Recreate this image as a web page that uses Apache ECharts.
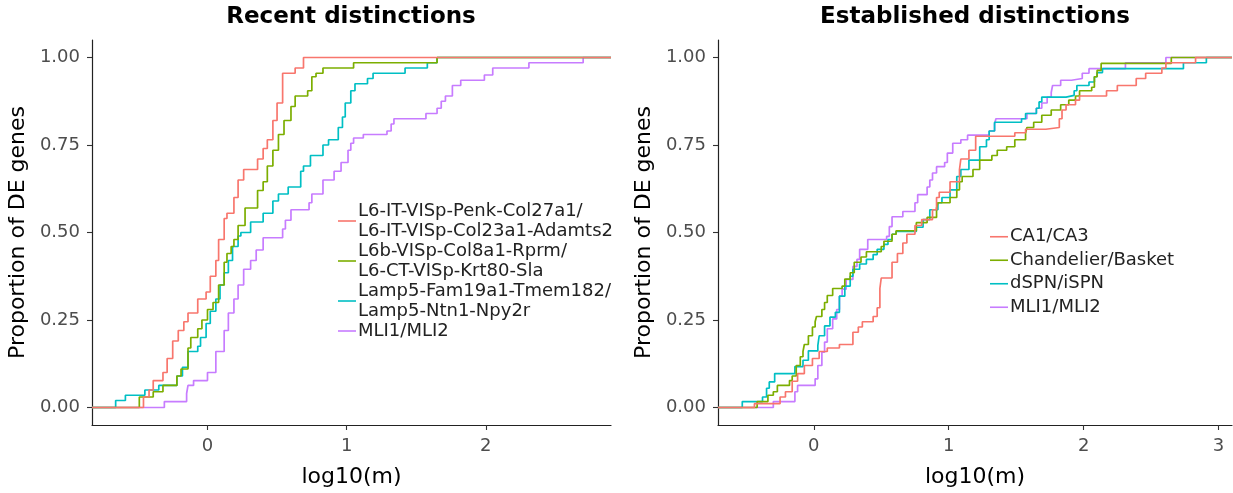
<!DOCTYPE html>
<html>
<head>
<meta charset="utf-8">
<script src="https://cdn.jsdelivr.net/npm/echarts@6/dist/echarts.min.js"></script>
<style>html,body{margin:0;padding:0;background:#fff}#c{width:1233px;height:493px}</style>
</head>
<body>
<div id="c"></div>
<script>
// ---------- DATA ----------
const panelTitles = ['Recent distinctions', 'Established distinctions'];
const xAxisTitle = 'log10(m)';
const yAxisTitle = 'Proportion of DE genes';
const yTicks = [0, 0.25, 0.5, 0.75, 1];
const xTicksLeft = [0, 1, 2];
const xTicksRight = [0, 1, 2, 3];
const xRangeLeft = [-0.83, 2.90];
const xRangeRight = [-0.71, 3.10];
const yRange = [-0.05, 1.05];

const recentNames = [
  'L6-IT-VISp-Penk-Col27a1/\nL6-IT-VISp-Col23a1-Adamts2',
  'L6b-VISp-Col8a1-Rprm/\nL6-CT-VISp-Krt80-Sla',
  'Lamp5-Fam19a1-Tmem182/\nLamp5-Ntn1-Npy2r',
  'MLI1/MLI2'
];
const establishedNames = ['CA1/CA3', 'Chandelier/Basket', 'dSPN/iSPN', 'MLI1/MLI2'];
const palette = ['#F8766D', '#7CAE00', '#00BFC4', '#C77CFF'];

// ECDF step points [log10(m), proportion]
const recentL6IT = [[-0.46,0.03],[-0.42,0.05],[-0.39,0.077],[-0.32,0.10],[-0.29,0.14],[-0.25,0.19],[-0.21,0.22],[-0.17,0.245],[-0.14,0.27],[-0.07,0.31],[-0.01,0.33],[0.02,0.375],[0.06,0.42],[0.08,0.48],[0.12,0.54],[0.14,0.555],[0.19,0.60],[0.22,0.65],[0.26,0.68],[0.36,0.71],[0.40,0.74],[0.43,0.765],[0.47,0.82],[0.50,0.87],[0.54,0.955],[0.63,0.97],[0.69,1.0]];
const recentL6b = [[-0.49,0.03],[-0.39,0.045],[-0.32,0.063],[-0.22,0.09],[-0.19,0.11],[-0.14,0.17],[-0.12,0.20],[-0.07,0.225],[-0.04,0.25],[0.00,0.28],[0.04,0.30],[0.08,0.35],[0.12,0.415],[0.14,0.44],[0.17,0.46],[0.19,0.48],[0.22,0.52],[0.27,0.57],[0.36,0.62],[0.40,0.645],[0.43,0.69],[0.47,0.735],[0.51,0.78],[0.55,0.82],[0.60,0.86],[0.63,0.89],[0.72,0.905],[0.75,0.945],[0.78,0.955],[0.83,0.97],[1.05,0.985],[1.65,1.0]];
const recentLamp5 = [[-0.66,0.02],[-0.59,0.035],[-0.45,0.05],[-0.35,0.063],[-0.22,0.09],[-0.18,0.115],[-0.14,0.16],[-0.07,0.175],[-0.05,0.20],[-0.01,0.24],[0.02,0.275],[0.06,0.31],[0.09,0.35],[0.12,0.385],[0.15,0.42],[0.18,0.46],[0.22,0.49],[0.24,0.50],[0.31,0.53],[0.40,0.555],[0.47,0.59],[0.51,0.61],[0.58,0.63],[0.67,0.675],[0.69,0.69],[0.74,0.72],[0.83,0.75],[0.87,0.765],[0.94,0.80],[0.97,0.83],[0.99,0.87],[1.03,0.905],[1.06,0.925],[1.15,0.94],[1.19,0.955],[1.42,0.97],[1.58,0.985],[1.65,1.0]];
const recentMLI = [[-0.31,0.017],[-0.15,0.04],[-0.14,0.063],[-0.10,0.077],[0.00,0.10],[0.06,0.16],[0.12,0.22],[0.15,0.27],[0.19,0.31],[0.22,0.35],[0.26,0.395],[0.31,0.42],[0.35,0.45],[0.40,0.485],[0.54,0.51],[0.56,0.535],[0.60,0.565],[0.73,0.585],[0.75,0.61],[0.83,0.65],[0.91,0.675],[0.96,0.70],[1.01,0.735],[1.03,0.755],[1.05,0.77],[1.12,0.78],[1.29,0.79],[1.32,0.81],[1.34,0.825],[1.57,0.84],[1.65,0.855],[1.68,0.875],[1.71,0.89],[1.76,0.92],[1.82,0.935],[1.99,0.95],[2.05,0.97],[2.31,0.985],[2.70,1.0]];

const estCA = [[-0.44,0.011],[-0.25,0.03],[-0.21,0.045],[-0.16,0.075],[-0.12,0.097],[-0.07,0.12],[-0.01,0.14],[0.04,0.16],[0.10,0.17],[0.19,0.18],[0.29,0.215],[0.33,0.23],[0.36,0.245],[0.44,0.26],[0.47,0.285],[0.49,0.34],[0.50,0.37],[0.58,0.415],[0.62,0.44],[0.66,0.47],[0.69,0.495],[0.75,0.52],[0.80,0.537],[0.88,0.565],[0.91,0.60],[0.93,0.615],[1.01,0.645],[1.08,0.68],[1.09,0.71],[1.15,0.735],[1.20,0.775],[1.49,0.785],[1.57,0.795],[1.72,0.80],[1.82,0.825],[1.84,0.85],[1.87,0.865],[1.94,0.878],[1.97,0.89],[2.17,0.905],[2.25,0.92],[2.39,0.94],[2.46,0.955],[2.58,0.97],[2.61,0.985],[2.83,1.0]];
const estChandelier = [[-0.42,0.017],[-0.34,0.035],[-0.30,0.045],[-0.27,0.063],[-0.18,0.077],[-0.16,0.09],[-0.13,0.12],[-0.10,0.145],[-0.08,0.16],[-0.07,0.18],[-0.04,0.205],[-0.01,0.23],[0.01,0.245],[0.02,0.26],[0.06,0.28],[0.08,0.30],[0.10,0.32],[0.14,0.34],[0.21,0.347],[0.23,0.367],[0.27,0.385],[0.30,0.415],[0.35,0.43],[0.39,0.445],[0.50,0.46],[0.52,0.475],[0.58,0.495],[0.61,0.505],[0.76,0.528],[0.84,0.543],[0.91,0.57],[0.92,0.585],[1.01,0.60],[1.06,0.622],[1.08,0.645],[1.10,0.66],[1.18,0.68],[1.23,0.707],[1.32,0.72],[1.36,0.735],[1.43,0.745],[1.49,0.765],[1.57,0.784],[1.58,0.80],[1.63,0.815],[1.69,0.835],[1.76,0.85],[1.83,0.865],[1.89,0.878],[1.94,0.89],[1.97,0.905],[2.06,0.915],[2.08,0.945],[2.10,0.963],[2.13,0.983],[2.65,1.0]];
const estSPN = [[-0.53,0.017],[-0.38,0.03],[-0.35,0.055],[-0.33,0.073],[-0.29,0.097],[-0.14,0.117],[-0.08,0.135],[-0.04,0.162],[0.03,0.177],[0.04,0.205],[0.08,0.233],[0.12,0.258],[0.16,0.272],[0.19,0.318],[0.23,0.347],[0.27,0.375],[0.29,0.395],[0.34,0.41],[0.39,0.423],[0.44,0.437],[0.47,0.452],[0.52,0.466],[0.55,0.48],[0.58,0.495],[0.61,0.503],[0.76,0.515],[0.81,0.537],[0.86,0.565],[0.92,0.585],[0.95,0.60],[1.01,0.622],[1.06,0.66],[1.09,0.68],[1.15,0.707],[1.23,0.745],[1.28,0.765],[1.30,0.79],[1.34,0.815],[1.54,0.825],[1.57,0.84],[1.65,0.855],[1.67,0.873],[1.69,0.887],[1.87,0.892],[1.93,0.905],[1.95,0.92],[2.04,0.93],[2.08,0.945],[2.10,0.957],[2.14,0.968],[2.74,0.985],[2.91,1.0]];
const estMLI = [[-0.30,0.017],[-0.14,0.045],[-0.12,0.063],[0.01,0.082],[0.03,0.12],[0.06,0.158],[0.08,0.187],[0.10,0.225],[0.14,0.253],[0.17,0.28],[0.19,0.318],[0.21,0.338],[0.24,0.366],[0.29,0.403],[0.32,0.423],[0.34,0.452],[0.40,0.48],[0.54,0.489],[0.56,0.517],[0.58,0.545],[0.66,0.56],[0.75,0.585],[0.77,0.608],[0.84,0.63],[0.86,0.65],[0.88,0.67],[0.91,0.688],[0.97,0.70],[0.99,0.727],[1.03,0.755],[1.09,0.765],[1.14,0.778],[1.30,0.79],[1.34,0.81],[1.35,0.825],[1.58,0.84],[1.65,0.855],[1.69,0.87],[1.73,0.887],[1.76,0.90],[1.77,0.92],[1.83,0.935],[1.91,0.94],[1.99,0.955],[2.04,0.968],[2.31,0.985],[2.61,1.0]];

const recentData = [recentL6IT, recentL6b, recentLamp5, recentMLI];
const establishedData = [estCA, estChandelier, estSPN, estMLI];

// ---------- CHART ----------
const FONT = 'DejaVu Sans';
function ecdf(points, range) {
  // extend to panel edges like an ECDF line
  return [[range[0], 0]].concat(points, [[range[1], 1]]);
}
function xAxisCfg(gi, range, ticks) {
  return {
    type: 'value', gridIndex: gi, min: range[0], max: range[1],
    name: xAxisTitle, nameLocation: 'middle', nameGap: 41,
    nameTextStyle: {fontSize: 22, color: '#000', fontFamily: FONT},
    axisLine: {onZero: false, lineStyle: {color: '#222', width: 1.2}},
    axisTick: {customValues: ticks, length: 5, lineStyle: {color: '#333', width: 1.1}},
    axisLabel: {customValues: ticks, margin: 12, fontSize: 18, color: '#4d4d4d', fontFamily: FONT},
    splitLine: {show: false}
  };
}
function yAxisCfg(gi) {
  return {
    type: 'value', gridIndex: gi, min: yRange[0], max: yRange[1],
    name: yAxisTitle, nameLocation: 'middle', nameGap: 63,
    nameTextStyle: {fontSize: 22, color: '#000', fontFamily: FONT},
    axisLine: {show: true, onZero: false, lineStyle: {color: '#222', width: 1.2}},
    axisTick: {show: true, customValues: yTicks, length: 5, lineStyle: {color: '#333', width: 1.1}},
    axisLabel: {customValues: yTicks, margin: 12, fontSize: 18, color: '#4d4d4d', fontFamily: FONT,
      formatter: v => v.toFixed(2)},
    splitLine: {show: false}
  };
}
const series = [];
recentData.forEach((d, i) => series.push({
  name: recentNames[i], type: 'line', step: 'end', xAxisIndex: 0, yAxisIndex: 0,
  data: ecdf(d, xRangeLeft), showSymbol: false, symbol: 'none', silent: true,
  color: palette[i], lineStyle: {color: palette[i], width: 1.7}, z: 10 - i
}));
establishedData.forEach((d, i) => series.push({
  name: establishedNames[i], type: 'line', step: 'end', xAxisIndex: 1, yAxisIndex: 1,
  data: ecdf(d, xRangeRight), showSymbol: false, symbol: 'none', silent: true,
  color: palette[i], lineStyle: {color: palette[i], width: 1.7}, z: 10 - i
}));

const legendText = {fontSize: 18, color: '#222', fontFamily: FONT};
const option = {
  backgroundColor: '#fff',
  animation: false,
  textStyle: {fontFamily: FONT},
  title: [
    {text: panelTitles[0], left: 351, top: 6, textAlign: 'center', padding: 0,
     textStyle: {fontSize: 23, fontWeight: 'bold', color: '#000', fontFamily: FONT}},
    {text: panelTitles[1], left: 975, top: 6, textAlign: 'center', padding: 0,
     textStyle: {fontSize: 23, fontWeight: 'bold', color: '#000', fontFamily: FONT}}
  ],
  grid: [
    {left: 92, right: 622, top: 40, bottom: 67, containLabel: false},
    {left: 718, right: 1, top: 40, bottom: 67, containLabel: false}
  ],
  xAxis: [xAxisCfg(0, xRangeLeft, xTicksLeft), xAxisCfg(1, xRangeRight, xTicksRight)],
  yAxis: [yAxisCfg(0), yAxisCfg(1)],
  legend: [
    {data: recentNames, left: 338, top: 201, orient: 'vertical', itemGap: 0,
     icon: 'rect', itemWidth: 18, itemHeight: 1.6, padding: 0, selectedMode: false,
     textStyle: Object.assign({lineHeight: 20, padding: [0, 0, 0, -3]}, legendText)},
    {data: establishedNames, left: 990, top: 225, orient: 'vertical', itemGap: 0,
     icon: 'rect', itemWidth: 18, itemHeight: 1.6, padding: 0, selectedMode: false,
     textStyle: Object.assign({lineHeight: 23.5, padding: [0, 0, 0, -3]}, legendText)}
  ],
  series: series
};
const chart = echarts.init(document.getElementById('c'), null, {renderer: 'canvas'});
chart.setOption(option);
</script>
</body>
</html>
